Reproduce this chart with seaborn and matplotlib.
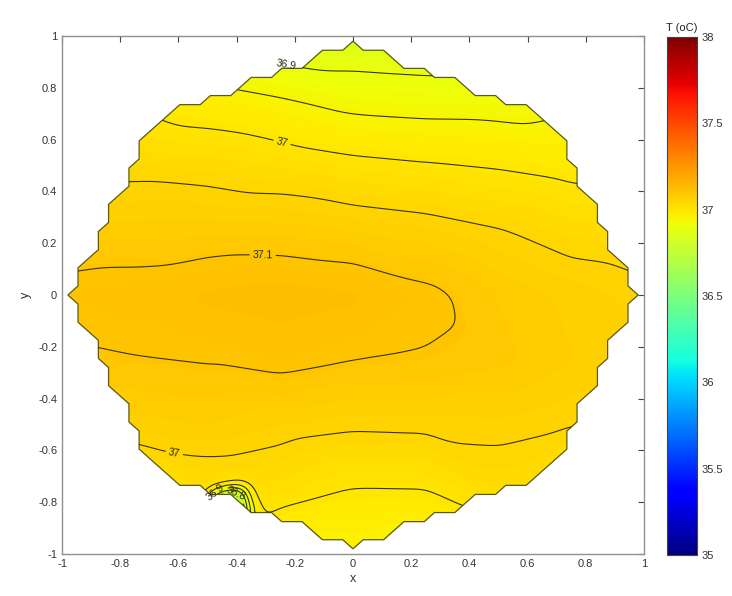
import numpy as np
import matplotlib
matplotlib.use("Agg")
import matplotlib.pyplot as plt
import matplotlib.tri as mtri
from matplotlib.patches import Polygon
import seaborn as sns

# ------------------------------------------------------------
# DATA: temperature on a coarse grid
# ------------------------------------------------------------
x_nodes = [-1.0, -0.75, -0.5, -0.25, 0.0, 0.25, 0.5, 0.75, 1.0]
y_nodes = [1.0, 0.75, 0.5, 0.25, 0.0, -0.25, -0.5, -0.75, -1.0]

# one row per y node (top -> bottom), one value per x node
temp_rows = [
    [36.92, 36.92, 36.913, 36.86, 36.86, 36.854, 36.86, 36.83, 36.80],
    [36.99, 36.993, 36.974, 36.955, 36.934, 36.929, 36.928, 36.94, 36.90],
    [37.04, 37.04, 37.035, 37.026, 37.012, 37.004, 36.997, 36.987, 36.97],
    [37.08, 37.08, 37.082, 37.081, 37.074, 37.066, 37.052, 37.035, 37.03],
    [37.11, 37.115, 37.125, 37.13, 37.125, 37.108, 37.085, 37.07, 37.058],
    [37.095, 37.099, 37.102, 37.11, 37.101, 37.098, 37.09, 37.075, 37.065],
    [37.07, 37.07, 37.075, 37.064, 37.056, 37.058, 37.06, 37.052, 37.05],
    [37.0, 37.0, 37.03, 37.02, 36.999, 37.0, 37.03, 37.0, 37.0],
    [36.92, 36.9, 36.9, 36.95, 36.955, 36.94, 36.88, 36.95, 36.94],
]

# extra readings around the cold spot on the lower-left edge
spot_x = [-0.43, -0.52, -0.36, -0.33]
spot_y = [-0.80, -0.70, -0.72, -0.87]
spot_t = [36.45, 37.035, 37.03, 37.0]

# contour levels: labelled ones with where their label sits, then plain ones
label_levels = [36.8, 36.9, 37.0, 37.05, 37.1]
label_spots = [
    [(-0.40, -0.76)],
    [(-0.23, 0.885), (-0.50, -0.72)],
    [(-0.24, 0.605)],
    [(-0.62, -0.645)],
    [(-0.31, 0.16)],
]
plain_levels = [36.85, 36.95]

# octagonal mesh outline (corner radius) and element size of the mesh
edge_radius = 0.965
element = 0.035

tick_vals = [-1, -0.8, -0.6, -0.4, -0.2, 0, 0.2, 0.4, 0.6, 0.8, 1]
tick_text = ["-1", "-0.8", "-0.6", "-0.4", "-0.2", "0", "0.2", "0.4", "0.6", "0.8", "1"]
cbar_vals = [35, 35.5, 36, 36.5, 37, 37.5, 38]
cbar_text = ["35", "35.5", "36", "36.5", "37", "37.5", "38"]

# ------------------------------------------------------------
# STYLE
# ------------------------------------------------------------
sns.set_theme(style="white")
plt.rcParams["font.family"] = ["Liberation Sans", "DejaVu Sans"]

# ------------------------------------------------------------
# FIELD: linear surface through the readings, lightly smoothed
# ------------------------------------------------------------
gx, gy = np.meshgrid(x_nodes, y_nodes)
px = np.concatenate([gx.ravel(), spot_x])
py = np.concatenate([gy.ravel(), spot_y])
pt = np.concatenate([np.array(temp_rows).ravel(), spot_t])

tri = mtri.Triangulation(px, py)
interp = mtri.LinearTriInterpolator(tri, pt)

xf = np.linspace(-1, 1, 321)
Xf, Yf = np.meshgrid(xf, xf)
Tf = np.asarray(interp(Xf, Yf).filled(np.nan))

# gaussian smoothing (sigma ~0.025 data units) to round off the facets
sig = 4.0
k = np.arange(-12, 13)
kern = np.exp(-0.5 * (k / sig) ** 2)
kern /= kern.sum()
pad = np.pad(Tf, 12, mode="edge")
pad = np.apply_along_axis(lambda r: np.convolve(r, kern, mode="same"), 1, pad)
pad = np.apply_along_axis(lambda c: np.convolve(c, kern, mode="same"), 0, pad)
Tf = pad[12:-12, 12:-12]

# jagged outline: octagon edges following the triangular element grid
corners = [(edge_radius * np.cos(a), edge_radius * np.sin(a))
           for a in np.arange(9) * np.pi / 4]
path = []
for (x0, y0), (x1, y1) in zip(corners[:-1], corners[1:]):
    for s in np.linspace(0, 1, 200)[:-1]:
        p = (round((x0 + s * (x1 - x0)) / element) * element,
             round((y0 + s * (y1 - y0)) / element) * element)
        if not path or p != path[-1]:
            path.append(p)
verts = path[::2]

# ------------------------------------------------------------
# PLOT
# ------------------------------------------------------------
fig = plt.figure(figsize=(7.32, 5.96), dpi=100)
ax = fig.add_axes([62 / 732, 1 - 554 / 596, 582 / 732, 518 / 596])
cax = fig.add_axes([667 / 732, 1 - 555 / 596, 30 / 732, 518 / 596])

mesh = ax.pcolormesh(Xf, Yf, Tf, cmap="jet", vmin=35, vmax=38, shading="gouraud")
clip = Polygon(verts, closed=True, transform=ax.transData)
mesh.set_clip_path(clip)

line_kw = dict(colors="#3a3200", linewidths=0.8)
cs_plain = ax.contour(Xf, Yf, Tf, levels=plain_levels, **line_kw)
cs_plain.set_clip_path(clip)
for lev, spots in zip(label_levels, label_spots):
    cs = ax.contour(Xf, Yf, Tf, levels=[lev], **line_kw)
    cs.set_clip_path(clip)
    ax.clabel(cs, manual=spots, inline=True, inline_spacing=3,
              fmt=lambda v: f"{v:.3g}", fontsize=7.5, colors="#2a2a10")

ax.add_patch(Polygon(verts, closed=True, facecolor="none",
                     edgecolor="#5a5a20", linewidth=0.9))

ax.set_xlim(-1, 1)
ax.set_ylim(-1, 1)
ax.set_xticks(tick_vals)
ax.set_xticklabels(tick_text)
ax.set_yticks(tick_vals)
ax.set_yticklabels(tick_text)
ax.tick_params(direction="in", top=True, right=True, length=4, width=0.8,
               labelsize=8, colors="#444444", labelcolor="#333333")
for sp in ax.spines.values():
    sp.set_color("#909090")
    sp.set_linewidth(1.0)
ax.set_xlabel("x", fontsize=9, color="#333333", labelpad=3)
ax.set_ylabel("y", fontsize=9, color="#333333", labelpad=4)

cb = fig.colorbar(mesh, cax=cax, ticks=cbar_vals)
cb.ax.set_yticklabels(cbar_text)
cb.ax.tick_params(direction="in", length=3, width=0.8, labelsize=8,
                  colors="#444444", labelcolor="#333333", left=True)
cb.outline.set_edgecolor("#444444")
cb.outline.set_linewidth(0.8)
cax.set_title("T (oC)", fontsize=8, color="#222222", pad=4)

fig.savefig("out.png", dpi=100)
